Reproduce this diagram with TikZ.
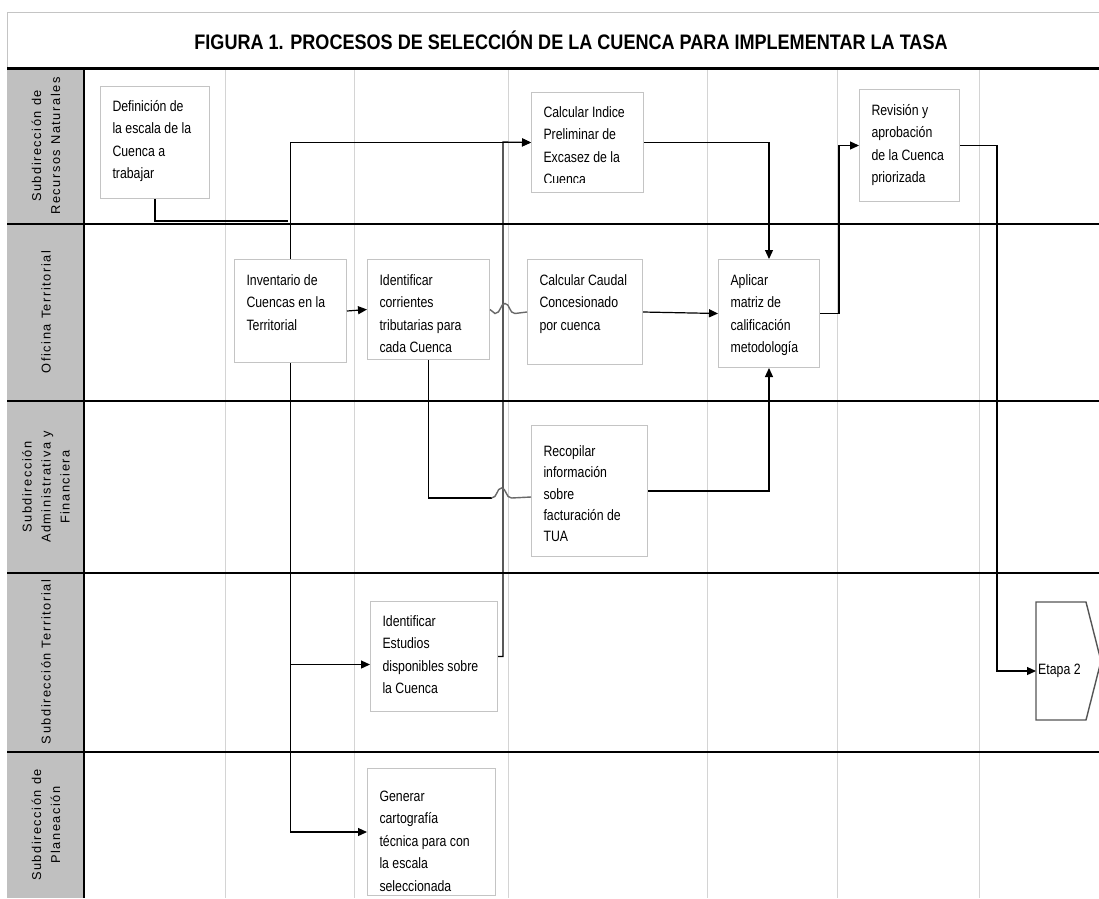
\documentclass[tikz,border=0pt]{standalone}
\usepackage{fontspec}
\setmainfont{Liberation Sans}
\newfontfamily\lanefont[LetterSpace=12]{Liberation Sans}
\newfontfamily\narrowfont[FakeStretch=0.82]{Liberation Sans}
\usepackage{graphicx}
\usepackage{tikz}
\usetikzlibrary{arrows.meta, calc}

\definecolor{headgray}{RGB}{192,192,192}
\definecolor{gridgray}{RGB}{212,212,212}
\definecolor{boxgray}{RGB}{196,196,196}
\definecolor{hopgray}{RGB}{105,105,105}
\definecolor{stagegray}{RGB}{85,85,85}

% text block of a task box: [first baseline]{width}{height}{lines}
\newcommand{\tasktxt}[4][25pt]{\parbox[c][#3][t]{#2}{\raggedright\leftskip=12pt\rule{0pt}{#1}#4}}
\newcommand{\taskfont}{\narrowfont\fontsize{15}{22.4}\selectfont}

\begin{document}
\begin{tikzpicture}[x=1pt, y=-1pt,
    task/.style={draw=boxgray, fill=white, line width=1pt, inner sep=0pt, anchor=north west, font=\taskfont},
    lanehead/.style={rotate=90, align=center, inner sep=0pt, font=\lanefont\fontsize{12.8}{19}\selectfont},
    laneline/.style={line width=1.5pt},
    gridline/.style={draw=gridgray, line width=1pt},
    arrow/.style={-{Triangle[length=9pt, width=8pt]}, line width=1.2pt},
    link/.style={line width=1.2pt},
    hopline/.style={draw=hopgray, line width=1.4pt}
]
    \useasboundingbox (0,0) rectangle (1099,898);
    \fill[white] (0,0) rectangle (1099,898);

    % title strip
    \draw[boxgray, line width=1pt] (7,68) -- (7,12) -- (1099,12);
    \node[font=\bfseries\fontsize{21}{25}\selectfont] (title) at (571,40)
        {\scalebox{0.86}[1]{FIGURA 1. PROCESOS DE SELECCIÓN DE LA CUENCA PARA IMPLEMENTAR LA TASA}};

    % lanes and columns
    \fill[headgray] (7,68) rectangle (84,898);
    \foreach \gx in {225,354,508,707,837,979}
        \draw[gridline] (\gx,68) -- (\gx,898);
    \foreach \ly in {224,401,573,752}
        \draw[laneline] (7,\ly) -- (1099,\ly);
    \draw[line width=3pt] (7,68) -- (1099,68);
    \draw[laneline] (84,68) -- (84,898);

    \node[lanehead] (lane1) at (46,146) {Subdirección de\\Recursos Naturales};
    \node[lanehead] (lane2) at (46,312) {Oficina Territorial};
    \node[lanehead] (lane3) at (46,487) {Subdirección\\Administrativa y\\Financiera};
    \node[lanehead] (lane4) at (46,662) {Subdirección Territorial};
    \node[lanehead] (lane5) at (46,825) {Subdirección de\\Planeación};

    % tasks
    \node[task] (defin) at (100,86) {\tasktxt{109pt}{112pt}{Definición de\\la escala de la\\Cuenca a\\trabajar}};
    \node[task] (indice) at (531,92) {\tasktxt{112pt}{100pt}{Calcular Indice\\Preliminar de\\Excasez de la\\Cuenca}};
    \fill[white] ($(indice.south west)+(1,-1)$) rectangle ($(indice.south east)+(-1,-10)$);
    \node[task] (revis) at (859,89) {\tasktxt[26pt]{100pt}{112pt}{Revisión y\\aprobación\\de la Cuenca\\priorizada}};
    \node[task] (invent) at (234,259) {\tasktxt[26pt]{112pt}{103pt}{Inventario de\\Cuencas en la\\Territorial}};
    \node[task] (corr) at (367,259) {\tasktxt[26pt]{122pt}{100pt}{Identificar\\corrientes\\tributarias para\\cada Cuenca}};
    \node[task] (caudal) at (527,259) {\tasktxt[26pt]{115pt}{105pt}{Calcular Caudal\\Concesionado\\por cuenca}};
    \node[task] (aplicar) at (718,259) {\tasktxt[26pt]{101pt}{108pt}{Aplicar\\matriz de\\calificación\\metodología}};
    \node[task, font=\narrowfont\fontsize{15}{21.3}\selectfont] (recop) at (531,425) {\tasktxt[31pt]{116pt}{131pt}{Recopilar\\información\\sobre\\facturación de\\TUA}};
    \node[task] (estud) at (370,601) {\tasktxt{127pt}{110pt}{Identificar\\Estudios\\disponibles sobre\\la Cuenca}};
    \node[task] (generar) at (367,768) {\tasktxt[33pt]{128pt}{127pt}{Generar\\cartografía\\técnica para con\\la escala\\seleccionada}};

    % next stage
    \draw[stagegray, line width=1.4pt] (1036,602) -- (1086,602) -- (1101,661) -- (1086,720) -- (1036,720) -- cycle;
    \node[anchor=west, inner sep=2pt, font=\taskfont] (etapa) at (1036,671) {Etapa 2};

    % flows
    \coordinate (busjoin) at (288,221);
    \coordinate (riser) at (503,142);
    \draw[link] (defin.south) |- (busjoin);
    \draw[arrow] (invent.north) |- (indice.west);
    \draw[arrow] (estud.east) -| (riser) -- (indice.west);
    \draw[arrow] (invent.east) -- (corr.west);
    \draw[arrow] (invent.south) |- ([yshift=-8pt]estud.west);
    \draw[arrow] (invent.south) |- (generar.west);
    \draw[hopline] (corr.east) -- ++(5,4) .. controls +(6,0) and +(-5,0) .. ++(10,-10)
        .. controls +(5,0) and +(-6,0) .. ++(10,10) -- (caudal.west);
    \draw[arrow] (caudal.east) -- (aplicar.west);
    \draw[arrow] (indice.east) -| (aplicar.north);
    \draw[link] (corr.south) -- ++(0,138) -- ++(63,0) coordinate (hopstart);
    \draw[hopline] (hopstart) .. controls +(6,0) and +(-5,0) .. ++(10,-10)
        .. controls +(5,0) and +(-6,0) .. ++(10,10) -- ([yshift=-6pt]recop.west);
    \draw[arrow] (recop.east) -| (aplicar.south);
    \draw[arrow] (aplicar.east) -- ++(19,0) |- (revis.west);
    \draw[arrow] (revis.east) -- ++(37,0) |- (etapa.west);
\end{tikzpicture}
\end{document}
